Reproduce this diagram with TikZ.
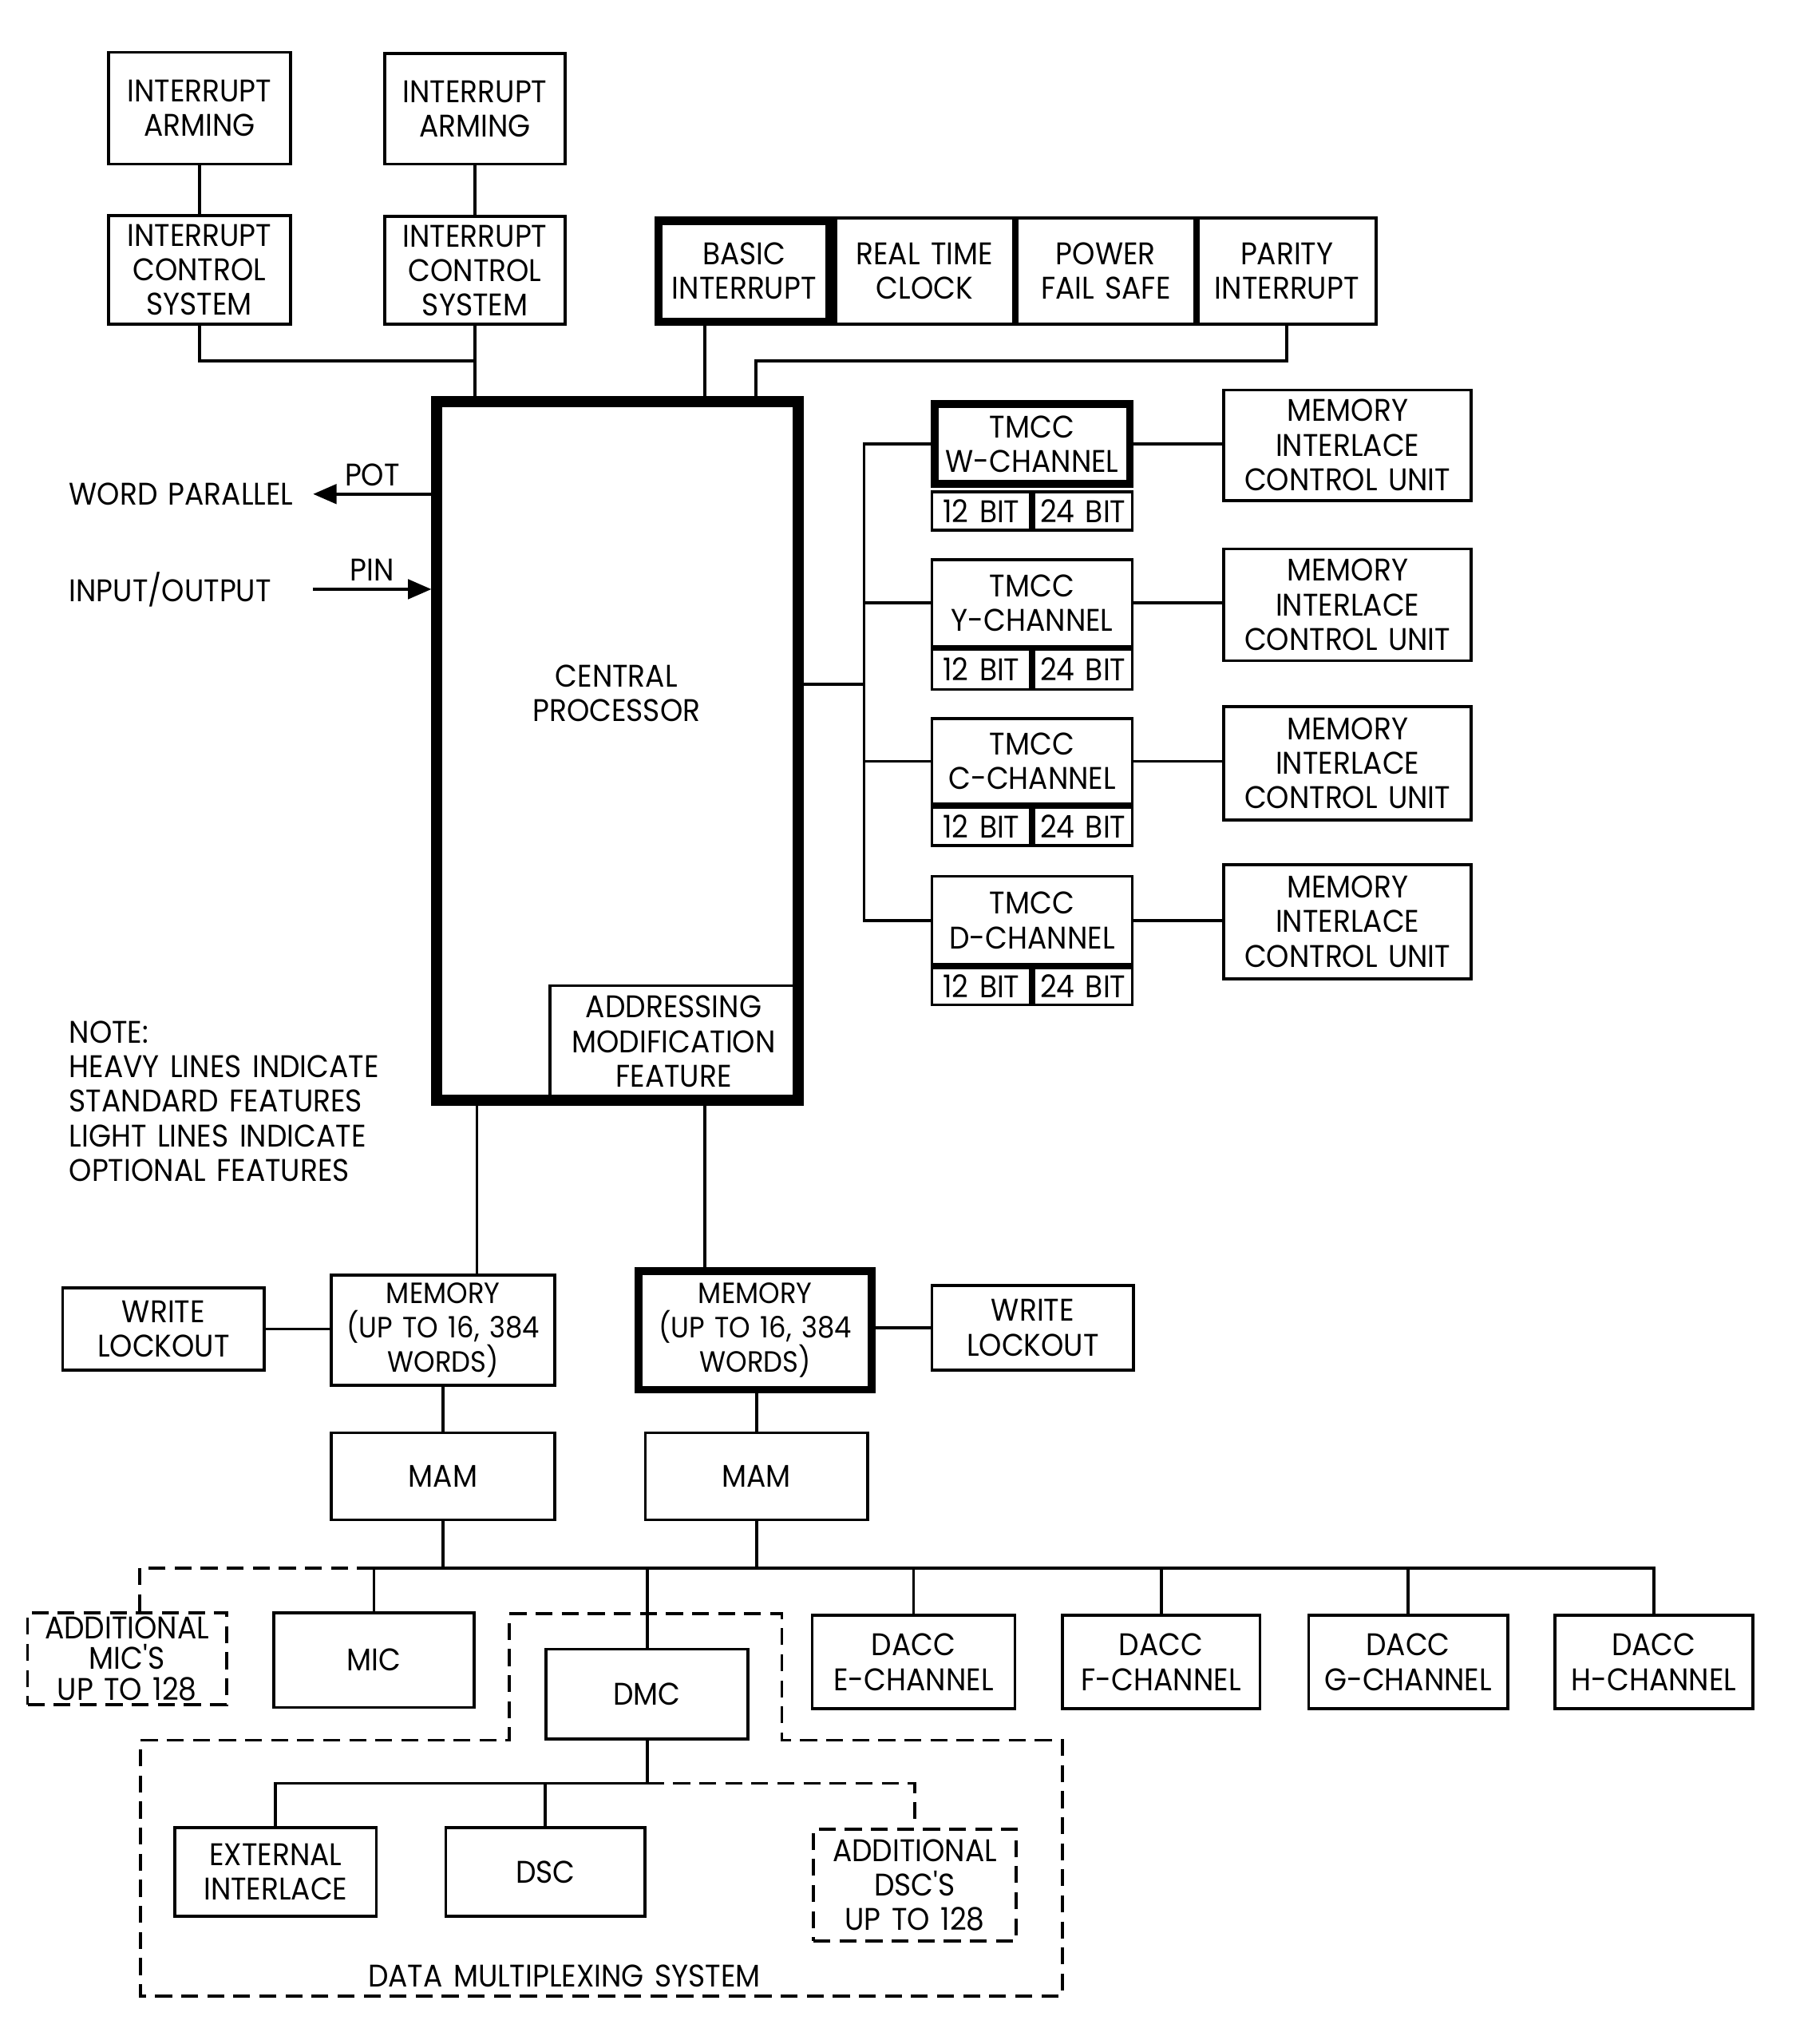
\documentclass[tikz,border=0pt]{standalone}
\usepackage{fontspec}
\setmainfont{Poppins}[FakeStretch=0.92, WordSpace=1.4]
\usetikzlibrary{arrows.meta}
\newcommand\fs{\fontsize{24}{26.5}\selectfont}
\newcommand\bx[8][]{%
 \pgfmathsetmacro\bxw{#5-#3-#2}%
 \pgfmathsetmacro\bxh{#6-#4-#2}%
 \pgfmathsetmacro\bxx{(#3+#5)/2}%
 \pgfmathsetmacro\bxy{(#4+#6)/2}%
 \node[draw, align=center, inner sep=0pt, line width=#2pt, minimum width=\bxw pt, minimum height=\bxh pt, #1] (#7) at (\bxx,\bxy) {#8};}
\tikzset{
 dsh/.style={dash pattern=on 13pt off 7pt},
 arr/.style={-{Triangle[length=18pt,width=15pt]}},
 txt/.style={align=center, inner sep=0pt},
 tight/.style={font=\fontsize{24}{23.5}\selectfont},
 memfont/.style={font=\fontsize{22.5}{26.5}\selectfont}
}
\begin{document}
\begin{tikzpicture}[x=1pt, y=-1pt, font=\fs, line width=2.3pt]
\fill[white] (0,0) rectangle (1378,1568);
\useasboundingbox (0,0) rectangle (1378,1568);
% top interrupt boxes
\bx{2.3}{82}{39}{224}{127}{ia1}{INTERRUPT\\ARMING}
\bx{2.3}{294}{40}{435}{127}{ia2}{INTERRUPT\\ARMING}
\bx{2.3}{82}{164}{224}{250}{ics1}{INTERRUPT\\CONTROL\\SYSTEM}
\bx{2.3}{294}{165}{435}{250}{ics2}{INTERRUPT\\CONTROL\\SYSTEM}
\bx{2.3}{640}{166}{779}{250}{rtc}{REAL TIME\\CLOCK}
\bx{2.3}{779}{166}{918}{250}{pfs}{POWER\\FAIL SAFE}
\bx{2.3}{918}{166}{1057}{250}{pi}{PARITY\\INTERRUPT}
\bx{6.5}{502}{166}{640}{250}{bi}{BASIC\\INTERRUPT}
% central processor
\bx{8.5}{331}{304}{617}{848}{cp}{}
\bx{2.3}{421}{755}{613}{843}{amf}{ADDRESSING\\MODIFICATION\\FEATURE}
\node[txt] (cpt) at (473,532) {CENTRAL\\PROCESSOR};
% connectors top
\coordinate (j1) at (0,277);
\draw (ia1) -- (ics1);
\draw (ia2) -- (ics2);
\draw (ics1) -- (ics1 |- j1) -- (ics2 |- j1);
\draw (ics2) -- (ics2 |- cp.north);
\draw ([xshift=-30pt]bi.south) -- ([xshift=-30pt]bi.south |- cp.north);
\draw (pi) -- (pi |- j1) -| (cp.north -| 580,0);
% word parallel I/O
\node[anchor=west, text width=186pt, align=left, inner sep=0pt] (wp) at (52,379) {WORD PARALLEL};
\node[anchor=west, text width=186pt, align=left, inner sep=0pt] (io) at (52,452) {INPUT/OUTPUT};
\draw[arr] (cp.west |- wp) -- (wp.east) node[midway, above=5pt, inner sep=0pt] {POT};
\draw[arr] (io.east) -- (cp.west |- io) node[midway, above=5pt, inner sep=0pt] {PIN};
% note
\node[anchor=north west, align=left, inner sep=0pt] (note) at (52,782) {NOTE:\\HEAVY LINES INDICATE\\STANDARD FEATURES\\LIGHT LINES INDICATE\\OPTIONAL FEATURES};
% TMCC channels
\bx{6}{714}{307}{870}{374}{tw}{TMCC\\W-CHANNEL}
\bx{2.3}{714}{376}{792}{408}{tw12}{12 BIT}
\bx{2.3}{792}{376}{870}{408}{tw24}{24 BIT}
\bx{2.3}{714}{428}{870}{497}{ty}{TMCC\\Y-CHANNEL}
\bx{2.3}{714}{497}{792}{530}{ty12}{12 BIT}
\bx{2.3}{792}{497}{870}{530}{ty24}{24 BIT}
\bx{2.3}{714}{550}{870}{618}{tc}{TMCC\\C-CHANNEL}
\bx{2.3}{714}{618}{792}{650}{tc12}{12 BIT}
\bx{2.3}{792}{618}{870}{650}{tc24}{24 BIT}
\bx{2.3}{714}{671}{870}{741}{td}{TMCC\\D-CHANNEL}
\bx{2.3}{714}{741}{792}{772}{td12}{12 BIT}
\bx{2.3}{792}{741}{870}{772}{td24}{24 BIT}
\bx{2.3}{938}{298}{1130}{385}{m1}{MEMORY\\INTERLACE\\CONTROL UNIT}
\bx{2.3}{938}{420}{1130}{508}{m2}{MEMORY\\INTERLACE\\CONTROL UNIT}
\bx{2.3}{938}{541}{1130}{630}{m3}{MEMORY\\INTERLACE\\CONTROL UNIT}
\bx{2.3}{938}{662}{1130}{752}{m4}{MEMORY\\INTERLACE\\CONTROL UNIT}
\coordinate (tb) at (663,525);
\draw (cp.east |- tb) -- (tb);
\draw (tw.west) -| (tb) |- (td.west);
\draw (ty.west) -- (ty.west -| tb);
\draw (tc.west) -- (tc.west -| tb);
\draw (tw.east) -- (tw.east -| m1.west);
\draw (ty.east) -- (ty.east -| m2.west);
\draw (tc.east) -- (tc.east -| m3.west);
\draw (td.east) -- (td.east -| m4.west);
% memories
\bx{2.3}{47}{987}{204}{1052}{wl1}{WRITE\\LOCKOUT}
\bx[memfont]{2.3}{253}{977}{427}{1064}{mem1}{MEMORY\\(UP TO 16, 384\\WORDS)}
\bx[memfont]{6}{487}{972}{672}{1069}{mem2}{MEMORY\\(UP TO 16, 384\\WORDS)}
\bx{2.3}{714}{985}{871}{1052}{wl2}{WRITE\\LOCKOUT}
\bx{2.3}{253}{1098}{427}{1167}{mam1}{MAM}
\bx{2.3}{494}{1098}{667}{1167}{mam2}{MAM}
\draw (cp.south -| 366,0) -- (mem1.north -| 366,0);
\draw (cp.south -| 541,0) -- (mem2.north -| 541,0);
\draw (wl1.east) -- (wl1.east -| mem1.west);
\draw (mem2.east |- wl2) -- (wl2.west);
\draw (mem1) -- (mam1);
\draw (mem2.south -| mam2) -- (mam2);
% bottom bus
\coordinate (bus) at (0,1203);
\bx[dsh,tight]{2.3}{20}{1236}{175}{1309}{addmic}{ADDITIONAL\\MIC\textquotesingle S\\UP TO 128}
\bx{2.3}{209}{1236}{365}{1311}{mic}{MIC}
\bx{2.3}{418}{1264}{575}{1335}{dmc}{DMC}
\bx{2.3}{622}{1238}{780}{1312}{de}{DACC\\E-CHANNEL}
\bx{2.3}{814}{1238}{968}{1312}{df}{DACC\\F-CHANNEL}
\bx{2.3}{1003}{1238}{1158}{1312}{dg}{DACC\\G-CHANNEL}
\bx{2.3}{1192}{1238}{1346}{1312}{dh}{DACC\\H-CHANNEL}
\draw (mam1) -- (mam1 |- bus);
\draw (mam2) -- (mam2 |- bus);
\draw (mic) -- (mic |- bus) -- (dh |- bus) -- (dh);
\draw (dmc) -- (dmc |- bus);
\draw (de) -- (de |- bus);
\draw (df) -- (df |- bus);
\draw (dg) -- (dg |- bus);
\draw[dsh] (mic |- bus) -| ([xshift=9.5pt]addmic.north);
% data multiplexing system
\draw[dsh] (391,1238) -- (600,1238) -- (600,1335) -- (815,1335) -- (815,1531) -- (108,1531) -- (108,1335) -- (391,1335) -- cycle;
\node[txt] (dms) at (433,1516) {DATA MULTIPLEXING SYSTEM};
\coordinate (bus2) at (0,1368);
\bx{2.3}{133}{1401}{290}{1471}{ext}{EXTERNAL\\INTERLACE}
\bx{2.3}{341}{1401}{496}{1471}{dsc}{DSC}
\bx[dsh]{2.3}{623}{1402}{781}{1490}{addsc}{ADDITIONAL\\DSC\textquotesingle S\\UP TO 128}
\draw (dmc) -- (dmc |- bus2);
\draw (ext) -- (ext |- bus2) -- (dmc |- bus2);
\draw (dsc) -- (dsc |- bus2);
\draw[dsh] (dmc |- bus2) -| (addsc);
\end{tikzpicture}
\end{document}
